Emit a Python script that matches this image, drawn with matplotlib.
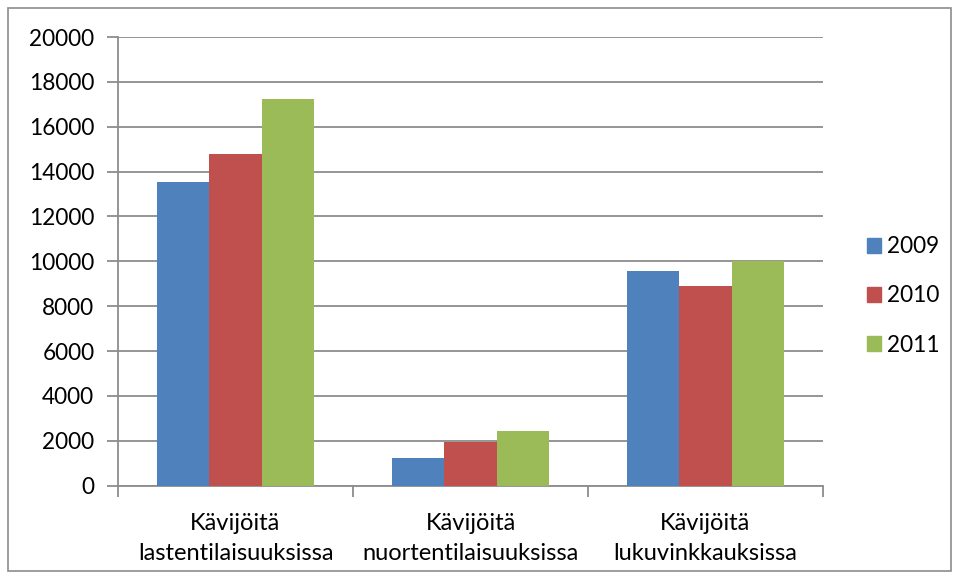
import matplotlib.pyplot as plt
import numpy as np
from matplotlib.patches import Rectangle

categories = ["Kävijöitä\nlastentilaisuuksissa", "Kävijöitä\nnuortentilaisuuksissa", "Kävijöitä\nlukuvinkkauksissa"]
years = ["2009", "2010", "2011"]
v2009 = [13550, 1250, 9550]
v2010 = [14800, 1950, 8900]
v2011 = [17250, 2450, 10000]
colors = ["#4F81BD", "#C0504D", "#9BBB59"]

plt.rcParams["font.family"] = ["Lato", "DejaVu Sans"]

W, H = 959, 578
fig = plt.figure(figsize=(W / 100, H / 100), dpi=100)
ax = fig.add_axes([118 / W, (H - 485.7) / H, 705 / W, (485.7 - 37) / H])

x = np.arange(len(categories))
bw = 0.222
for i, (vals, year) in enumerate(zip([v2009, v2010, v2011], years)):
    ax.bar(x + (i - 1) * bw, vals, bw, color=colors[i], label=year, zorder=3)

ax.set_xlim(-0.5, 2.5)
ax.set_ylim(0, 20000)
ax.set_yticks(range(0, 20001, 2000))
ax.grid(axis="y", color="#8c8c8c", linewidth=1.3, zorder=0)

# category boundaries as the x tick marks
ax.set_xticks([-0.5, 0.5, 1.5, 2.5])
ax.set_xticklabels([])
ax.tick_params(axis="x", length=8, width=1.3, color="#8c8c8c", direction="out")
ax.tick_params(axis="y", length=8, width=1.3, color="#8c8c8c", labelsize=16.3, pad=9)

for s in ["top", "right"]:
    ax.spines[s].set_visible(False)
for s in ["left", "bottom"]:
    ax.spines[s].set_color("#8c8c8c")
    ax.spines[s].set_linewidth(1.3)

for xi, cat in zip(x, categories):
    ax.text(xi, -0.06, cat, transform=ax.get_xaxis_transform(), ha="center", va="top",
            fontsize=17, linespacing=1.55)

handles = [Rectangle((0, 0), 1, 1, color=c) for c in colors]
fig.legend(handles, years, loc="center left", bbox_to_anchor=(867 / W, 1 - 296 / H),
           frameon=False, fontsize=16.3, handlelength=0.62, handleheight=0.62,
           handletextpad=0.25, labelspacing=1.25, borderpad=0, borderaxespad=0)

fig.patches.append(Rectangle((8 / W, 7 / H), 943 / W, 563 / H, transform=fig.transFigure,
                             fill=False, edgecolor="#8c8c8c", linewidth=1.2))

fig.savefig("out.png", dpi=100)
